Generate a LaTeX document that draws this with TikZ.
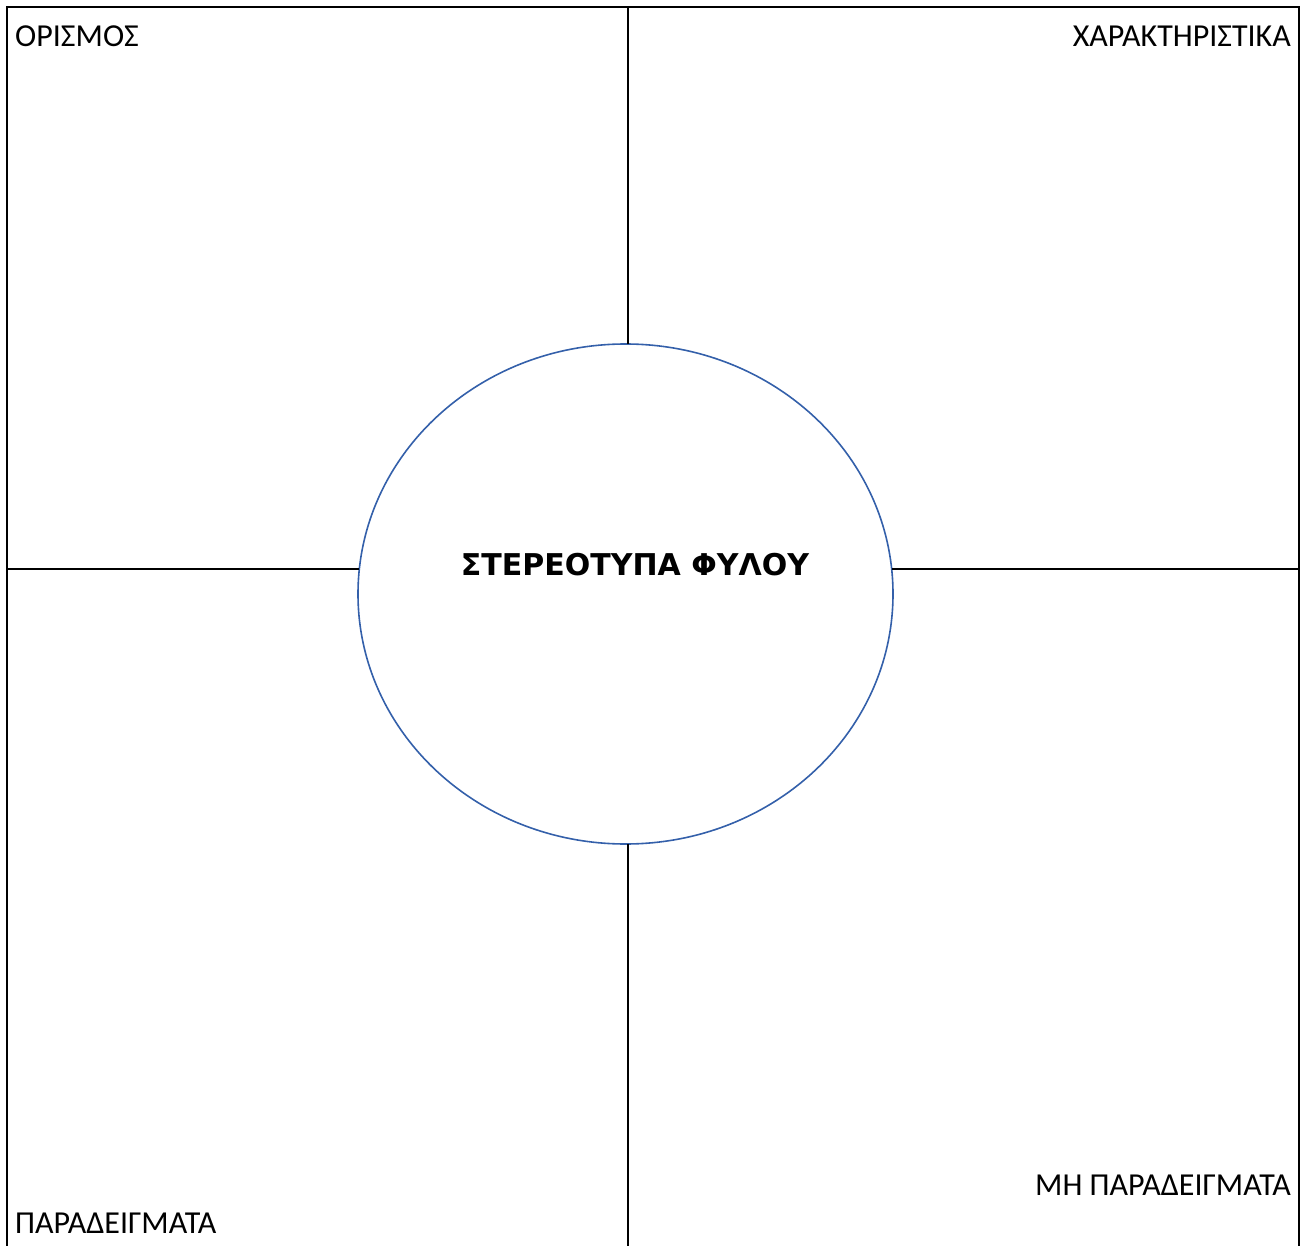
\documentclass[tikz,border=0pt]{standalone}
\usepackage{fontspec}
\setmainfont{Carlito}
\newfontfamily\titlefont{DejaVu Sans}
\usetikzlibrary{shapes.geometric}
\definecolor{ringblue}{RGB}{52,96,170}

\begin{document}
\begin{tikzpicture}[x=1pt,y=-1pt,
    frame/.style = {line width=1.6pt, black},
    ring/.style = {ellipse, draw=ringblue, line width=1.6pt,
        minimum width=535pt, minimum height=500pt, inner sep=0pt, outer sep=0pt},
    corner/.style = {font=\fontsize{32}{38}\selectfont, inner sep=0pt}]
\useasboundingbox (0,0) rectangle (1302,1246);

% frame corners
\coordinate (tl) at (7,7);
\coordinate (tr) at (1299,7);
\coordinate (bl) at (7,1246);
\coordinate (br) at (1299,1246);
\coordinate (tm) at (628,7);
\coordinate (bm) at (628,1246);
\coordinate (lm) at (7,569);
\coordinate (rm) at (1299,569);

\node[ring] (ring) at (625.5,594) {};
\node[font=\titlefont\bfseries\fontsize{30}{36}\selectfont] (title) at (635,565) {ΣΤΕΡΕΟΤΥΠΑ ΦΥΛΟΥ};

\node[corner, anchor=base west] (def) at (15,47) {ΟΡΙΣΜΟΣ};
\node[corner, anchor=base east] (feat) at (1291,47) {ΧΑΡΑΚΤΗΡΙΣΤΙΚΑ};
\node[corner, anchor=base west] (ex) at (15,1233) {ΠΑΡΑΔΕΙΓΜΑΤΑ};
\node[corner, anchor=base east] (nonex) at (1291,1195) {ΜΗ ΠΑΡΑΔΕΙΓΜΑΤΑ};

\draw[frame] (bl) -- (tl) -- (tr) -- (br);
\draw[frame] (tm) -- (tm |- ring.north);
\draw[frame] (bm) -- (bm |- ring.south);
\draw[frame] (lm) -- ([xshift=1pt]ring.west |- lm);
\draw[frame] (rm) -- ([xshift=-1pt]ring.east |- rm);
\end{tikzpicture}
\end{document}
